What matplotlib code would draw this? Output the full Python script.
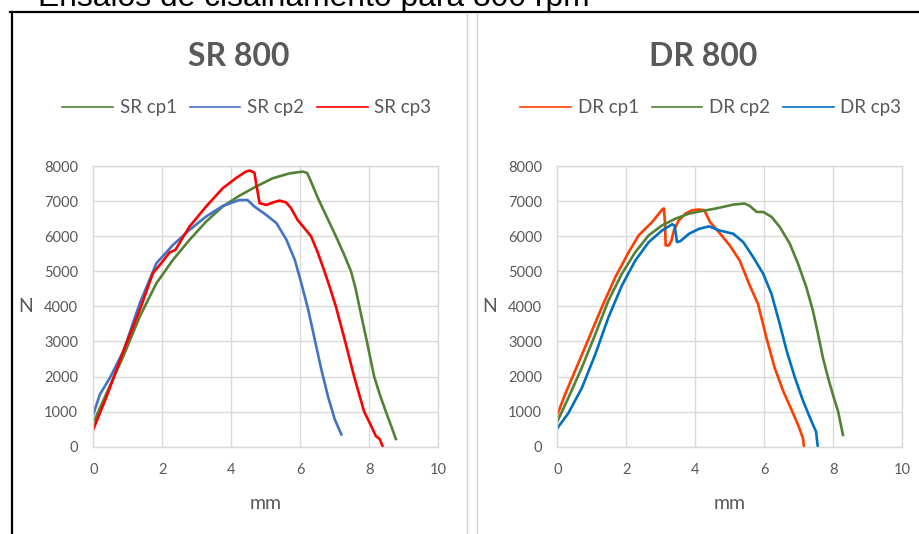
import matplotlib
matplotlib.use("Agg")
import matplotlib.pyplot as plt
from matplotlib.lines import Line2D

# SR 800 panel
SR_CP1_X = [0, 0.39, 0.87, 1.35, 1.83, 2.31, 2.79, 3.27, 3.75, 4.23, 4.71, 5.2, 5.69,
            6.07, 6.2, 6.3, 6.41, 6.55, 6.8, 7.03, 7.25, 7.47, 7.6, 7.71, 7.93, 8.14,
            8.3, 8.48, 8.63, 8.77]
SR_CP1_Y = [680, 1535, 2580, 3715, 4660, 5327, 5895, 6415, 6845, 7150, 7410, 7650, 7790,
            7840, 7800, 7580, 7320, 7000, 6480, 6000, 5520, 5000, 4520, 4000, 3000, 2000,
            1500, 1000, 600, 220]
SR_CP2_X = [0, 0.19, 0.48, 0.87, 1.35, 1.83, 2.31, 2.79, 3.27, 3.75, 4.23, 4.47, 4.67,
            5.02, 5.31, 5.6, 5.84, 6.03, 6.23, 6.42, 6.61, 6.8, 7.0, 7.19]
SR_CP2_Y = [920, 1490, 1960, 2720, 4095, 5230, 5750, 6180, 6560, 6860, 7030, 7030, 6845,
            6600, 6370, 5895, 5327, 4660, 3900, 3050, 2200, 1440, 777, 350]
SR_CP3_X = [0, 0.39, 0.87, 1.35, 1.73, 1.97, 2.21, 2.38, 2.79, 3.27, 3.75, 4.13, 4.42,
            4.53, 4.67, 4.72, 4.82, 5.02, 5.21, 5.4, 5.59, 5.73, 5.92, 6.1, 6.31, 6.5,
            6.7, 6.87, 7.03, 7.3, 7.56, 7.85, 8.05, 8.19, 8.3, 8.39]
SR_CP3_Y = [493, 1440, 2720, 3905, 4950, 5230, 5535, 5610, 6275, 6845, 7365, 7650, 7840,
            7870, 7810, 7500, 6940, 6890, 6960, 7015, 6960, 6800, 6465, 6250, 6000, 5550,
            5000, 4500, 4000, 3000, 2000, 1000, 600, 303, 220, 0]

# DR 800 panel
DR_CP1_X = [0, 0.22, 0.51, 0.9, 1.29, 1.68, 2.07, 2.36, 2.75, 3.04, 3.09, 3.12, 3.14,
            3.23, 3.31, 3.38, 3.52, 3.72, 3.91, 4.11, 4.26, 4.43, 4.72, 5.0, 5.29, 5.58,
            5.82, 6.06, 6.3, 6.55, 6.79, 6.98, 7.12, 7.15]
DR_CP1_Y = [908, 1480, 2150, 3060, 3970, 4830, 5545, 6025, 6405, 6760, 6790, 6400, 5735,
            5735, 5880, 6165, 6450, 6645, 6740, 6760, 6740, 6400, 6070, 5735, 5300, 4590,
            4060, 3110, 2250, 1580, 1050, 620, 240, 0]
DR_CP2_X = [0, 0.32, 0.71, 1.1, 1.48, 1.87, 2.26, 2.65, 3.04, 3.43, 3.82, 4.21, 4.6, 5.1,
            5.43, 5.58, 5.78, 5.97, 6.21, 6.45, 6.74, 6.98, 7.22, 7.41, 7.56, 7.7, 7.85,
            7.99, 8.14, 8.28]
DR_CP2_Y = [717, 1390, 2250, 3200, 4160, 4925, 5545, 6025, 6310, 6500, 6645, 6720, 6790,
            6900, 6930, 6860, 6690, 6690, 6550, 6260, 5785, 5210, 4540, 3870, 3200, 2530,
            1960, 1480, 1000, 335]
DR_CP3_X = [0, 0.32, 0.71, 1.1, 1.48, 1.87, 2.26, 2.65, 3.04, 3.33, 3.4, 3.47, 3.57, 3.82,
            4.11, 4.4, 4.69, 5.1, 5.39, 5.68, 5.97, 6.21, 6.45, 6.65, 6.89, 7.13, 7.37,
            7.5, 7.55]
DR_CP3_Y = [525, 955, 1670, 2630, 3680, 4590, 5305, 5830, 6165, 6340, 6300, 5830, 5860,
            6070, 6210, 6280, 6165, 6070, 5830, 5400, 4925, 4350, 3490, 2725, 1960, 1290,
            717, 430, 0]

X_TICKS = [0, 2, 4, 6, 8, 10]
Y_TICKS = [0, 1000, 2000, 3000, 4000, 5000, 6000, 7000, 8000]

GREEN = "#548235"
GREY_TXT = "#595959"
GRID = "#D9D9D9"

PANELS = (
    ("SR 800", 93.3, [
        ("SR cp1", SR_CP1_X, SR_CP1_Y, GREEN),
        ("SR cp2", SR_CP2_X, SR_CP2_Y, "#4472C4"),
        ("SR cp3", SR_CP3_X, SR_CP3_Y, "#FF0000"),
    ]),
    ("DR 800", 557.3, [
        ("DR cp1", DR_CP1_X, DR_CP1_Y, "#FF3D00"),
        ("DR cp2", DR_CP2_X, DR_CP2_Y, GREEN),
        ("DR cp3", DR_CP3_X, DR_CP3_Y, "#0070C0"),
    ]),
)

W, H = 920, 534
plt.rcParams["font.family"] = ["Lato", "DejaVu Sans"]

fig = plt.figure(figsize=(W / 100, H / 100), dpi=100)


def fx(px):
    return px / W


def fy(py):
    return 1 - py / H


# caption above the charts, cut off by the top edge as in the source screenshot
fig.text(fx(38), fy(6), "Ensaios de cisalhamento para 800 rpm", fontsize=22.9,
         family="Liberation Sans", color="black", ha="left", va="baseline")

# frame lines
fig.add_artist(Line2D([fx(10), 1], [fy(12), fy(12)], color="black", lw=1.6))
fig.add_artist(Line2D([fx(12), fx(12)], [fy(12), 0], color="black", lw=1.6))
fig.add_artist(Line2D([fx(466.5), fx(466.5)], [fy(13), 0], color="#D0D0D0", lw=1.0))
fig.add_artist(Line2D([fx(477), fx(477)], [fy(13), 0], color="#D0D0D0", lw=1.0))

for title, left_px, series in PANELS:
    ax = fig.add_axes([fx(left_px), fy(446.7), 345 / W, 280.7 / H])
    for label, xs, ys, color in series:
        ax.plot(xs, ys, color=color, lw=1.9, solid_joinstyle="round", label=label)
    ax.set_xlim(0, 10)
    ax.set_ylim(0, 8000)
    ax.set_xticks(X_TICKS)
    ax.set_yticks(Y_TICKS)
    ax.grid(True, color=GRID, lw=1.0)
    ax.set_axisbelow(True)
    for sp in ax.spines.values():
        sp.set_color(GRID)
        sp.set_linewidth(1.0)
    ax.tick_params(axis="both", length=0, labelsize=10.5, labelcolor=GREY_TXT)
    ax.tick_params(axis="x", pad=12)
    ax.tick_params(axis="y", pad=11)
    ax.set_xlabel("mm", fontsize=14, color=GREY_TXT, labelpad=13)
    ax.set_ylabel("N", fontsize=14, color=GREY_TXT, rotation=0, labelpad=13, va="center")

    cx = left_px + 345 / 2
    fig.text(fx(cx - 27), fy(57), title, fontsize=23, fontweight="bold",
             color=GREY_TXT, ha="center", va="center")
    handles = [Line2D([], [], color=c, lw=1.2) for _, _, _, c in series]
    labels = [lab for lab, _, _, _ in series]
    fig.legend(handles, labels, loc="center", bbox_to_anchor=(fx(cx - 19), fy(108)),
               ncol=3, frameon=False, fontsize=13.5, handlelength=2.7,
               handletextpad=0.35, columnspacing=0.7, labelcolor=GREY_TXT,
               borderpad=0, borderaxespad=0)

fig.savefig("out.png", dpi=100)
